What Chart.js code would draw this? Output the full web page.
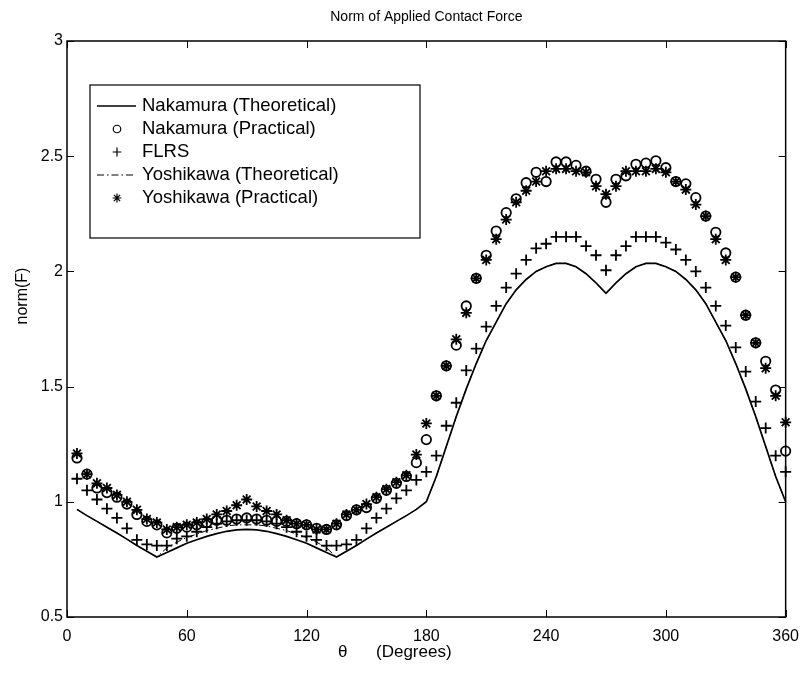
<!DOCTYPE html>
<html>
<head>
<meta charset="utf-8">
<script src="https://cdn.jsdelivr.net/npm/chart.js@4.4.1/dist/chart.umd.min.js"></script>
<style>
  html, body { margin: 0; padding: 0; background: #fff; }
  canvas { display: block; }
</style>
</head>
<body>
<canvas id="chart" width="809" height="678"></canvas>
<script>
const theta = [
  5, 10, 15, 20, 25, 30, 35, 40, 45, 50, 55, 60, 65, 70, 75, 80, 85, 90,
  95, 100, 105, 110, 115, 120, 125, 130, 135, 140, 145, 150, 155, 160, 165, 170, 175, 180,
  185, 190, 195, 200, 205, 210, 215, 220, 225, 230, 235, 240, 245, 250, 255, 260, 265, 270,
  275, 280, 285, 290, 295, 300, 305, 310, 315, 320, 325, 330, 335, 340, 345, 350, 355, 360
];

const nakamuraTheoretical = [
  0.967, 0.94, 0.915, 0.89, 0.865, 0.838, 0.81, 0.785, 0.76, 0.78, 0.80, 0.82, 0.835, 0.85, 0.862, 0.872, 0.878, 0.88,
  0.878, 0.872, 0.862, 0.85, 0.835, 0.82, 0.80, 0.78, 0.76, 0.785, 0.81, 0.838, 0.865, 0.89, 0.915, 0.94, 0.967, 1.0,
  1.11, 1.24, 1.37, 1.49, 1.60, 1.70, 1.78, 1.86, 1.92, 1.965, 2.0, 2.02, 2.035, 2.035, 2.02, 1.99, 1.95, 1.905,
  1.95, 1.99, 2.02, 2.035, 2.035, 2.02, 2.0, 1.965, 1.92, 1.86, 1.78, 1.70, 1.60, 1.49, 1.37, 1.24, 1.11, 1.0
];

const nakamuraPractical = [
  1.19, 1.12, 1.06, 1.04, 1.02, 0.99, 0.945, 0.915, 0.90, 0.865, 0.885, 0.89, 0.90, 0.91, 0.92, 0.92, 0.925, 0.93,
  0.925, 0.92, 0.915, 0.915, 0.905, 0.90, 0.885, 0.88, 0.90, 0.94, 0.965, 0.975, 1.015, 1.05, 1.08, 1.11, 1.17, 1.27,
  1.46, 1.59, 1.68, 1.85, 1.97, 2.07, 2.175, 2.255, 2.315, 2.385, 2.43, 2.39, 2.475, 2.475, 2.46, 2.435, 2.40, 2.30,
  2.40, 2.415, 2.465, 2.47, 2.48, 2.45, 2.39, 2.38, 2.32, 2.24, 2.17, 2.08, 1.975, 1.81, 1.69, 1.61, 1.485, 1.22
];

const flrs = [
  1.10, 1.05, 1.01, 0.97, 0.93, 0.885, 0.835, 0.815, 0.81, 0.81, 0.84, 0.85, 0.87, 0.89, 0.905, 0.915, 0.92, 0.92,
  0.92, 0.915, 0.905, 0.89, 0.87, 0.85, 0.835, 0.81, 0.81, 0.815, 0.835, 0.885, 0.93, 0.97, 1.015, 1.05, 1.095, 1.13,
  1.20, 1.33, 1.43, 1.57, 1.665, 1.76, 1.85, 1.93, 1.99, 2.05, 2.10, 2.12, 2.15, 2.15, 2.15, 2.11, 2.07, 2.005,
  2.07, 2.11, 2.15, 2.15, 2.15, 2.125, 2.095, 2.05, 2.0, 1.93, 1.85, 1.765, 1.67, 1.565, 1.435, 1.32, 1.20, 1.13
];

const yoshikawaTheoretical = [
  0.967, 0.94, 0.915, 0.89, 0.865, 0.838, 0.81, 0.785, 0.76, 0.80, 0.825, 0.845, 0.86, 0.875, 0.885, 0.895, 0.90, 0.90,
  0.90, 0.895, 0.885, 0.875, 0.86, 0.845, 0.825, 0.80, 0.76, 0.785, 0.81, 0.838, 0.865, 0.89, 0.915, 0.94, 0.967, 1.0,
  1.11, 1.24, 1.37, 1.49, 1.60, 1.70, 1.78, 1.86, 1.92, 1.965, 2.0, 2.02, 2.035, 2.035, 2.02, 1.99, 1.95, 1.905,
  1.95, 1.99, 2.02, 2.035, 2.035, 2.02, 2.0, 1.965, 1.92, 1.86, 1.78, 1.70, 1.60, 1.49, 1.37, 1.24, 1.11, 1.0
];

const yoshikawaPractical = [
  1.21, 1.12, 1.08, 1.06, 1.03, 1.0, 0.965, 0.925, 0.91, 0.88, 0.89, 0.90, 0.91, 0.925, 0.945, 0.96, 0.985, 1.01,
  0.98, 0.96, 0.945, 0.92, 0.905, 0.90, 0.88, 0.88, 0.905, 0.945, 0.965, 0.99, 1.02, 1.055, 1.085, 1.115, 1.205, 1.34,
  1.46, 1.59, 1.705, 1.82, 1.97, 2.05, 2.14, 2.225, 2.30, 2.35, 2.39, 2.435, 2.445, 2.445, 2.435, 2.43, 2.37, 2.335,
  2.37, 2.435, 2.435, 2.435, 2.445, 2.43, 2.39, 2.355, 2.29, 2.24, 2.14, 2.05, 1.975, 1.81, 1.69, 1.58, 1.46, 1.345
];

const xTicks = [0, 60, 120, 180, 240, 300, 360];
const yTicks = [0.5, 1, 1.5, 2, 2.5, 3];
const yTickLabels = ["0.5", "1", "1.5", "2", "2.5", "3"];

const FONT = "'Liberation Sans', Arial, Helvetica, sans-serif";
const pts = (ys) => theta.map((t, i) => ({ x: t, y: ys[i] }));

// frame, inward ticks, title, axis labels and the boxed legend, matlab style
const matlabFrame = {
  id: "matlabFrame",
  afterDraw(chart) {
    const { ctx, chartArea: a, scales } = chart;
    ctx.save();
    ctx.strokeStyle = "#000";
    ctx.lineWidth = 1.5;
    ctx.strokeRect(a.left, a.top, a.right - a.left, a.bottom - a.top);
    ctx.lineWidth = 1;
    const tl = 7;
    ctx.beginPath();
    xTicks.forEach((v) => {
      const px = Math.round(scales.x.getPixelForValue(v)) + 0.5;
      ctx.moveTo(px, a.bottom); ctx.lineTo(px, a.bottom - tl);
      ctx.moveTo(px, a.top); ctx.lineTo(px, a.top + tl);
    });
    yTicks.forEach((v) => {
      const py = Math.round(scales.y.getPixelForValue(v)) + 0.5;
      ctx.moveTo(a.left, py); ctx.lineTo(a.left + tl, py);
      ctx.moveTo(a.right, py); ctx.lineTo(a.right - tl, py);
    });
    ctx.stroke();

    ctx.fillStyle = "#000";
    ctx.textAlign = "center";
    ctx.textBaseline = "middle";
    ctx.font = "14px " + FONT;
    ctx.fillText("Norm of Applied Contact Force", (a.left + a.right) / 2, 17);
    ctx.font = "17px " + FONT;
    ctx.textAlign = "left";
    ctx.fillText("\u03b8", 338, 652);
    ctx.fillText("(Degrees)", 376, 652);
    ctx.textAlign = "center";
    ctx.save();
    ctx.translate(23, 296);
    ctx.rotate(-Math.PI / 2);
    ctx.font = "16px " + FONT;
    ctx.fillText("norm(F)", 0, 0);
    ctx.restore();

    // legend box
    const bx = 90, by = 85, bw = 330, bh = 153;
    ctx.fillStyle = "#fff";
    ctx.fillRect(bx, by, bw, bh);
    ctx.lineWidth = 1.2;
    ctx.strokeRect(bx, by, bw, bh);
    ctx.font = "18.5px " + FONT;
    ctx.textAlign = "left";
    chart.data.datasets.forEach((ds, i) => {
      const cy = by + 21 + i * 23;
      const cx = 117;
      ctx.strokeStyle = "#000";
      if (ds.showLine !== false) {
        ctx.save();
        ctx.lineWidth = ds.borderWidth;
        ctx.setLineDash(ds.borderDash || []);
        ctx.beginPath();
        ctx.moveTo(97, cy); ctx.lineTo(136, cy);
        ctx.stroke();
        ctx.restore();
      } else {
        ctx.fillStyle = "rgba(0,0,0,0)";
        Chart.helpers.drawPoint(ctx, {
          pointStyle: ds.pointStyle, radius: ds.pointRadius * 0.8,
          borderWidth: ds.pointBorderWidth, rotation: 0
        }, cx, cy);
      }
      ctx.fillStyle = "#000";
      ctx.fillText(ds.label, 142, cy);
    });
    ctx.restore();
  }
};

new Chart(document.getElementById("chart"), {
  type: "line",
  data: {
    datasets: [
      {
        label: "Nakamura (Theoretical)",
        data: pts(nakamuraTheoretical),
        borderColor: "#000", borderWidth: 1.7, pointRadius: 0, order: 5
      },
      {
        label: "Nakamura (Practical)",
        data: pts(nakamuraPractical),
        showLine: false, pointStyle: "circle", pointRadius: 4.7, pointBorderWidth: 1.8,
        pointBorderColor: "#000", pointBackgroundColor: "rgba(0,0,0,0)", order: 4
      },
      {
        label: "FLRS",
        data: pts(flrs),
        showLine: false, pointStyle: "cross", pointRadius: 5.5, pointBorderWidth: 1.8,
        pointBorderColor: "#000", order: 3
      },
      {
        label: "Yoshikawa (Theoretical)",
        data: pts(yoshikawaTheoretical),
        borderColor: "#000", borderWidth: 1, borderDash: [7, 3, 1.5, 3], pointRadius: 0, order: 2
      },
      {
        label: "Yoshikawa (Practical)",
        data: pts(yoshikawaPractical),
        showLine: false, pointStyle: "star", pointRadius: 5.5, pointBorderWidth: 1.8,
        pointBorderColor: "#000", order: 1
      }
    ]
  },
  options: {
    responsive: false,
    animation: false,
    devicePixelRatio: 1,
    layout: { padding: { top: 41, right: 17, left: 0, bottom: 0 } },
    elements: { line: { tension: 0 } },
    datasets: { line: { clip: false } },
    plugins: { legend: { display: false }, tooltip: { enabled: false }, title: { display: false } },
    scales: {
      x: {
        type: "linear", min: 0, max: 360,
        afterBuildTicks: (s) => { s.ticks = xTicks.map((v) => ({ value: v })); },
        afterFit: (s) => { s.height = 61; },
        grid: { display: false, drawTicks: false },
        border: { display: false },
        ticks: { color: "#000", padding: 10, maxRotation: 0, font: { family: FONT, size: 16 } }
      },
      y: {
        type: "linear", min: 0.5, max: 3,
        afterBuildTicks: (s) => { s.ticks = yTicks.map((v) => ({ value: v })); },
        afterFit: (s) => { s.width = 67; },
        grid: { display: false, drawTicks: false },
        border: { display: false },
        ticks: {
          color: "#000", padding: 4, font: { family: FONT, size: 16 },
          callback: (v, i) => yTickLabels[i]
        }
      }
    }
  },
  plugins: [matlabFrame]
});
</script>
</body>
</html>
